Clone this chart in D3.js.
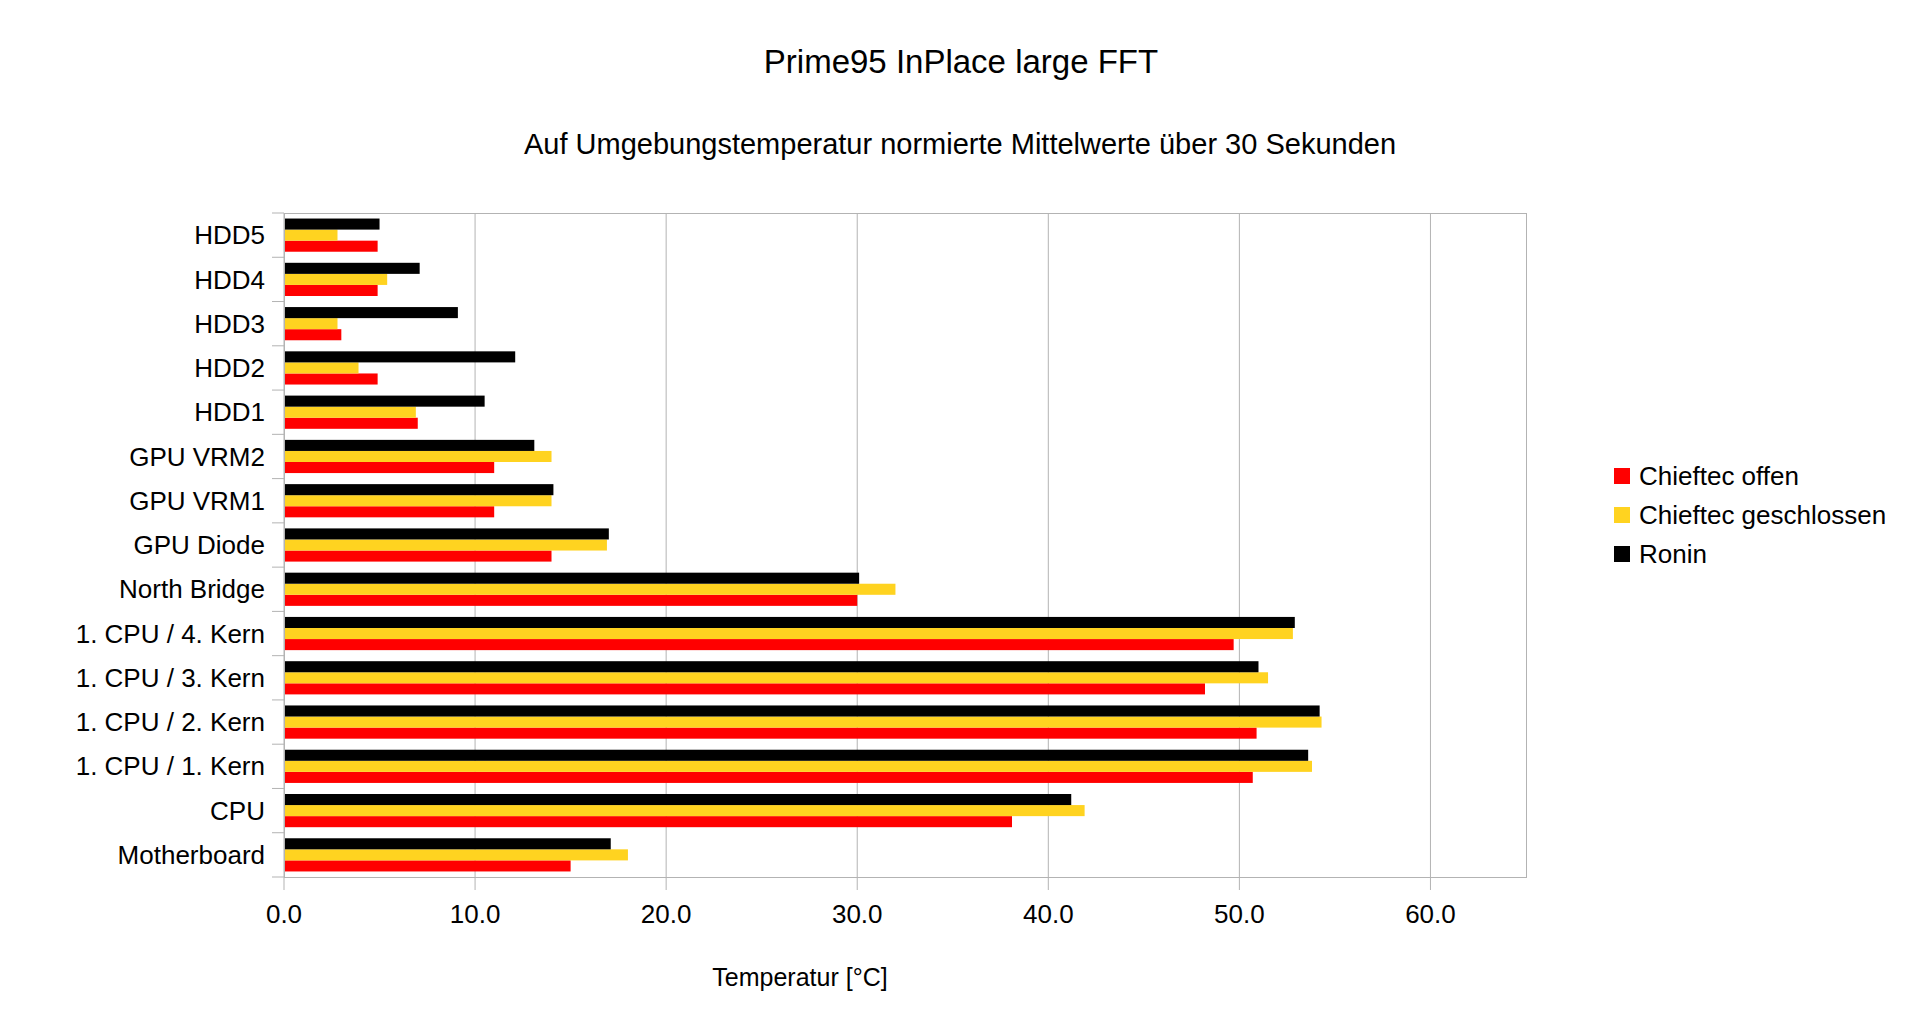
<!DOCTYPE html>
<html>
<head>
<meta charset="utf-8">
<script src="https://cdn.jsdelivr.net/npm/d3@7"></script>
<style>
  html, body { margin: 0; padding: 0; background: #fff; }
  svg { display: block; font-family: "Liberation Sans", Arial, sans-serif; }
</style>
</head>
<body>
<svg id="chart" width="1920" height="1034"></svg>
<script>
// categories, top to bottom as drawn
const categories = ["HDD5", "HDD4", "HDD3", "HDD2", "HDD1", "GPU VRM2", "GPU VRM1", "GPU Diode",
  "North Bridge", "1. CPU / 4. Kern", "1. CPU / 3. Kern", "1. CPU / 2. Kern", "1. CPU / 1. Kern",
  "CPU", "Motherboard"];

const seriesNames = ["Chieftec offen", "Chieftec geschlossen", "Ronin"];
const seriesColors = ["#ff0000", "#ffd320", "#000000"];

const chieftecOffen = [4.9, 4.9, 3.0, 4.9, 7.0, 11.0, 11.0, 14.0, 30.0, 49.7, 48.2, 50.9, 50.7, 38.1, 15.0];
const chieftecGeschlossen = [2.8, 5.4, 2.8, 3.9, 6.9, 14.0, 14.0, 16.9, 32.0, 52.8, 51.5, 54.3, 53.8, 41.9, 18.0];
const ronin = [5.0, 7.1, 9.1, 12.1, 10.5, 13.1, 14.1, 17.0, 30.1, 52.9, 51.0, 54.2, 53.6, 41.2, 17.1];

const xTicks = [0, 10, 20, 30, 40, 50, 60];

const seriesValues = [chieftecOffen, chieftecGeschlossen, ronin];

const svg = d3.select("#chart");
const plot = {left: 284, right: 1526, top: 213, bottom: 877};

const x = d3.scaleLinear().domain([0, 65]).range([plot.left, plot.right]);
const y = d3.scaleBand().domain(categories).range([plot.top, plot.bottom])
  .paddingInner(0.25).paddingOuter(0.125);
// ronin on top, chieftec offen at the bottom of each group
const ySub = d3.scaleBand().domain([2, 1, 0]).range([0, y.bandwidth()]);

// gridlines
svg.append("g")
  .selectAll("line")
  .data(xTicks)
  .join("line")
  .attr("x1", d => x(d)).attr("x2", d => x(d))
  .attr("y1", plot.top).attr("y2", plot.bottom)
  .attr("stroke", "#b3b3b3").attr("stroke-width", 1);

// band boundary ticks on the left
const step = y.step();
const bounds = d3.range(categories.length + 1).map(i => plot.top + i * step);
svg.append("g")
  .selectAll("line")
  .data(bounds)
  .join("line")
  .attr("x1", plot.left - 12).attr("x2", plot.left)
  .attr("y1", d => d).attr("y2", d => d)
  .attr("stroke", "#b3b3b3").attr("stroke-width", 1);

// bottom ticks
svg.append("g")
  .selectAll("line")
  .data(xTicks)
  .join("line")
  .attr("x1", d => x(d)).attr("x2", d => x(d))
  .attr("y1", plot.bottom).attr("y2", plot.bottom + 13)
  .attr("stroke", "#b3b3b3").attr("stroke-width", 1);

// bars
const rows = [];
categories.forEach((c, i) => {
  seriesValues.forEach((vals, s) => rows.push({cat: c, s: s, v: vals[i]}));
});
svg.append("g")
  .selectAll("rect")
  .data(rows)
  .join("rect")
  .attr("x", x(0))
  .attr("y", d => y(d.cat) + ySub(d.s))
  .attr("width", d => x(d.v) - x(0))
  .attr("height", ySub.bandwidth())
  .attr("fill", d => seriesColors[d.s]);

// plot frame
svg.append("rect")
  .attr("x", plot.left + 0.5).attr("y", plot.top + 0.5)
  .attr("width", plot.right - plot.left).attr("height", plot.bottom - plot.top)
  .attr("fill", "none").attr("stroke", "#b3b3b3").attr("stroke-width", 1);

// category labels
svg.append("g")
  .selectAll("text")
  .data(categories)
  .join("text")
  .attr("x", 265)
  .attr("y", d => y(d) + y.bandwidth() / 2)
  .attr("dy", "0.35em")
  .attr("text-anchor", "end")
  .attr("font-size", 26)
  .text(d => d);

// x tick labels
svg.append("g")
  .selectAll("text")
  .data(xTicks)
  .join("text")
  .attr("x", d => x(d))
  .attr("y", 923)
  .attr("text-anchor", "middle")
  .attr("font-size", 26)
  .text(d => d3.format(".1f")(d));

// titles
svg.append("text")
  .attr("x", 961).attr("y", 73)
  .attr("text-anchor", "middle").attr("font-size", 33)
  .text("Prime95 InPlace large FFT");
svg.append("text")
  .attr("x", 960).attr("y", 154)
  .attr("text-anchor", "middle").attr("font-size", 29)
  .text("Auf Umgebungstemperatur normierte Mittelwerte über 30 Sekunden");
svg.append("text")
  .attr("x", 800).attr("y", 986)
  .attr("text-anchor", "middle").attr("font-size", 25)
  .text("Temperatur [°C]");

// legend
const legend = svg.append("g")
  .selectAll("g")
  .data(seriesNames)
  .join("g")
  .attr("transform", (d, i) => `translate(1614, ${476 + i * 39})`);
legend.append("rect")
  .attr("x", 0).attr("y", -8)
  .attr("width", 16).attr("height", 16)
  .attr("fill", (d, i) => seriesColors[i]);
legend.append("text")
  .attr("x", 25).attr("y", 0)
  .attr("dy", "0.35em")
  .attr("font-size", 26)
  .text(d => d);
</script>
</body>
</html>
